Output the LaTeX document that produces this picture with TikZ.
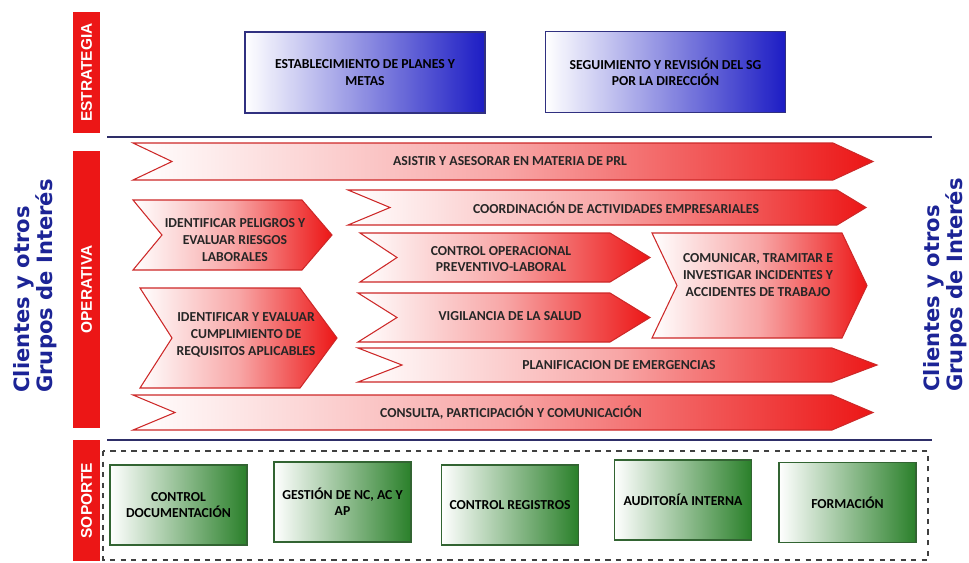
\documentclass[tikz,border=0pt]{standalone}
\usepackage{fontspec}
\setmainfont{Carlito}
\newfontfamily\barfont{Liberation Sans}
\newfontfamily\sidefont{DejaVu Sans}
\usetikzlibrary{positioning}

\definecolor{procred}{RGB}{236,22,22}
\definecolor{chevline}{RGB}{205,40,40}
\definecolor{stratblue}{RGB}{28,28,196}
\definecolor{stratline}{RGB}{48,48,128}
\definecolor{supgreen}{RGB}{42,128,42}
\definecolor{supline}{RGB}{50,100,50}
\definecolor{navyline}{RGB}{46,46,104}
\definecolor{sideblue}{RGB}{28,36,150}

% chevron: name, left x, tip x, top y, bottom y, notch depth, tip depth, text position, text
\newcommand{\chevron}[9]{%
  \path[chevshape] (#2,#4) -- (#3-#7,#4) -- (#3,{(#4+#5)/2}) -- (#3-#7,#5) -- (#2,#5) -- (#2+#6,{(#4+#5)/2}) -- cycle;
  \node[chevtext] (#1) at (#8) {#9};
}

\begin{document}
\begin{tikzpicture}[
    x=0.02cm, y=-0.02cm,
    chevshape/.style={draw=chevline, line width=0.6pt, left color=white, right color=procred, middle color=procred!38},
    chevtext/.style={align=center, inner sep=0pt, text=black!85, font=\fontsize{7.8}{9.6}\selectfont\bfseries},
    stratbox/.style={draw=stratline, line width=0.7pt, minimum width=4.8cm, minimum height=1.62cm, left color=white, right color=stratblue, middle color=stratblue!50, align=center, font=\fontsize{7.8}{9.2}\selectfont\bfseries},
    supbox/.style={draw=supline, line width=0.7pt, minimum width=2.74cm, minimum height=1.6cm, left color=white, right color=supgreen, middle color=supgreen!50, align=center, font=\fontsize{7.8}{9.2}\selectfont\bfseries},
    bar/.style={fill=procred, text=white, rotate=90, minimum height=0.54cm, inner sep=0pt, font=\barfont\fontsize{8.8}{10}\selectfont\bfseries},
    side/.style={text=sideblue, rotate=90, align=left, inner sep=0pt, font=\sidefont\fontsize{12}{10.8}\selectfont\bfseries},
    sepline/.style={navyline, line width=1.3pt}
]
    \useasboundingbox[fill=white] (0,0) rectangle (969,562);

    % Side labels
    \node[side] (clientesizq) at (35,286) {Clientes y otros\\Grupos de Interés};
    \node[side] (clientesder) at (945,285) {Clientes y otros\\Grupos de Interés};

    % Level bars
    \node[bar, minimum width=2.42cm] (estrategia) at (86.5,72.5) {ESTRATEGIA};
    \node[bar, minimum width=5.54cm] (operativa) at (86.5,289.5) {OPERATIVA};
    \node[bar, minimum width=2.42cm] (soporte) at (86.5,500.5) {SOPORTE};

    % Strategy
    \node[stratbox] (planes) at (365,72.5) {ESTABLECIMIENTO DE PLANES Y\\METAS};
    \node[stratbox] (revision) at (665.5,72) {SEGUIMIENTO Y REVISIÓN DEL SG\\POR LA DIRECCIÓN};

    \draw[sepline] (107,137) -- (932,137);

    % Operative processes
    \chevron{asistir}{133}{873}{143}{180}{39}{40}{510,161}{ASISTIR Y ASESORAR EN MATERIA DE PRL}
    \chevron{coordina}{348}{866}{190}{225}{42}{29}{616,208}{COORDINACIÓN DE ACTIVIDADES EMPRESARIALES}
    \chevron{peligros}{133}{332}{200}{270}{29}{30}{235,240}{IDENTIFICAR PELIGROS Y\\EVALUAR RIESGOS\\LABORALES}
    \chevron{controlop}{360}{650}{233}{282}{37}{40}{501,259}{CONTROL OPERACIONAL\\PREVENTIVO-LABORAL}
    \chevron{comunicar}{652}{867}{233}{338}{25}{25}{758,275}{COMUNICAR, TRAMITAR E\\INVESTIGAR INCIDENTES Y\\ACCIDENTES DE TRABAJO}
    \chevron{requisitos}{140}{337}{288}{388}{32}{37}{246,335}{IDENTIFICAR Y EVALUAR\\CUMPLIMIENTO DE\\REQUISITOS APLICABLES}
    \chevron{vigilancia}{358}{650}{293}{342}{39}{40}{510,316}{VIGILANCIA DE LA SALUD}
    \chevron{emergencia}{358}{877}{348}{382}{44}{45}{619,365}{PLANIFICACION DE EMERGENCIAS}
    \chevron{consulta}{133}{873}{395}{430}{42}{41}{511,413}{CONSULTA, PARTICIPACIÓN Y COMUNICACIÓN}

    \draw[sepline] (107,440) -- (932,440);

    % Support
    \draw[dashed, black!75, line width=0.8pt] (103,451) rectangle (928,560);
    \node[supbox] (documenta) at (178.5,505) {CONTROL\\DOCUMENTACIÓN};
    \node[supbox] (gestion) at (342.5,502) {GESTIÓN DE NC, AC Y\\AP};
    \node[supbox] (registros) at (510,505) {CONTROL REGISTROS};
    \node[supbox] (auditoria) at (683,500) {AUDITORÍA INTERNA};
    \node[supbox] (formacion) at (847.5,502.5) {FORMACIÓN};

\end{tikzpicture}
\end{document}
